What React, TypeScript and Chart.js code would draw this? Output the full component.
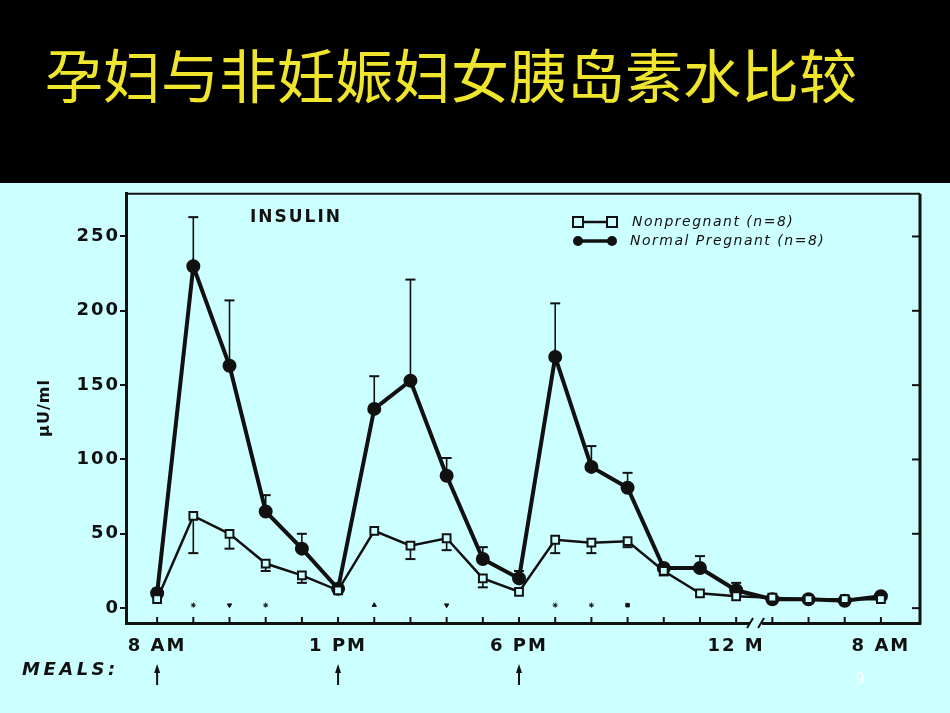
import React, { useEffect, useRef } from 'react';
import { Chart, registerables } from 'chart.js';

Chart.register(...registerables);

const TITLE = '孕妇与非妊娠妇女胰岛素水比较';
const BG = '#ccffff';
const INK = '#111111';

// sample positions (index along the time axis)
const timeIndex = [0, 1, 2, 3, 4, 5, 6, 7, 8, 9, 10, 11, 12, 13, 14, 15, 16, 17, 18, 19, 20];
const tickIndices = [0, 5, 10, 16, 20];
const tickLabels = ['8 AM', '1 PM', '6 PM', '12 M', '8 AM'];
const yTickValues = [0, 50, 100, 150, 200, 250];
const mealIndices = [0, 5, 10];

const nonpregnant = [6, 62, 50, 30, 22, 12, 52, 42, 47, 20, 11, 46, 44, 45, 25, 10, 8, 7, 6, 6, 6];
const pregnant = [10, 230, 163, 65, 40, 13, 134, 153, 89, 33, 20, 169, 95, 81, 27, 27, 12, 6, 6, 5, 8];
const pregnantUpper = [13, 263, 207, 76, 50, null, 156, 221, 101, 41, 25, 205, 109, 91, null, 35, 17, null, null, null, null];
const nonpregnantLower = [null, 37, 40, 25, 17, null, null, 33, 39, 14, null, 37, 37, 41, 22, null, null, null, null, null, null];

const sigIndices = [1, 2, 3, 6, 8, 11, 12, 13];
const sigStyles = ['star', 'triangle', 'star', 'triangle', 'triangle', 'star', 'star', 'rect'];
const sigRotation = [0, 180, 0, 0, 180, 0, 0, 0];
const sigLevel = 2;

const FONT = "'DejaVu Sans', 'Liberation Sans', sans-serif";

const decor = {
  id: 'decor',
  beforeDraw(chart: any) {
    chart.ctx.letterSpacing = '2px';
  },
  beforeDatasetsDraw(chart: any) {
    const ctx = chart.ctx as CanvasRenderingContext2D;
    const xs = chart.scales.x;
    const ys = chart.scales.y;
    ctx.save();
    ctx.strokeStyle = INK;
    const bar = (i: number, v: number, b: number) => {
      const x = xs.getPixelForValue(timeIndex[i]);
      const y0 = ys.getPixelForValue(v);
      const y1 = ys.getPixelForValue(b);
      ctx.lineWidth = 1.6;
      ctx.beginPath();
      ctx.moveTo(x, y0);
      ctx.lineTo(x, y1);
      ctx.stroke();
      ctx.lineWidth = 2;
      ctx.beginPath();
      ctx.moveTo(x - 5, y1);
      ctx.lineTo(x + 5, y1);
      ctx.stroke();
    };
    pregnantUpper.forEach((u, i) => { if (u != null) bar(i, pregnant[i], u); });
    nonpregnantLower.forEach((l, i) => { if (l != null) bar(i, nonpregnant[i], l); });
    ctx.restore();
  },
  afterDraw(chart: any) {
    const ctx = chart.ctx as CanvasRenderingContext2D;
    const a = chart.chartArea;
    const xs = chart.scales.x;
    const ys = chart.scales.y;
    const px = (v: number) => xs.getPixelForValue(v);
    const py = (v: number) => ys.getPixelForValue(v);
    ctx.save();
    ctx.strokeStyle = INK;
    ctx.fillStyle = INK;

    // top frame
    ctx.lineWidth = 2;
    ctx.beginPath();
    ctx.moveTo(a.left, a.top);
    ctx.lineTo(a.right, a.top);
    ctx.stroke();
    // right frame
    ctx.lineWidth = 3;
    ctx.beginPath();
    ctx.moveTo(a.right, a.top);
    ctx.lineTo(a.right, a.bottom + 1.5);
    ctx.stroke();
    ctx.lineWidth = 2;
    yTickValues.forEach((v) => {
      ctx.beginPath();
      ctx.moveTo(a.right, py(v));
      ctx.lineTo(a.right - 8, py(v));
      ctx.stroke();
    });
    // inner x ticks
    timeIndex.forEach((t) => {
      ctx.beginPath();
      ctx.moveTo(px(t), a.bottom);
      ctx.lineTo(px(t), a.bottom - 6);
      ctx.stroke();
    });
    // axis break
    const bx = px(16.55);
    ctx.fillStyle = BG;
    ctx.fillRect(bx - 6, a.bottom - 3, 12, 6);
    ctx.fillStyle = INK;
    ctx.lineWidth = 2;
    ctx.beginPath();
    ctx.moveTo(bx - 9, a.bottom + 5);
    ctx.lineTo(bx - 3, a.bottom - 5);
    ctx.moveTo(bx + 2, a.bottom + 5);
    ctx.lineTo(bx + 8, a.bottom - 5);
    ctx.stroke();

    // INSULIN label
    ctx.textBaseline = 'middle';
    ctx.textAlign = 'left';
    ctx.letterSpacing = '2px';
    ctx.font = `bold 17px ${FONT}`;
    ctx.fillText('INSULIN', 250, 35);

    // legend
    const l1 = 39, l2 = 58;
    ctx.lineWidth = 2.5;
    ctx.beginPath();
    ctx.moveTo(578, l1);
    ctx.lineTo(612, l1);
    ctx.stroke();
    [578, 612].forEach((x) => {
      ctx.fillStyle = BG;
      ctx.fillRect(x - 5, l1 - 5, 10, 10);
      ctx.lineWidth = 2;
      ctx.strokeRect(x - 5, l1 - 5, 10, 10);
    });
    ctx.fillStyle = INK;
    ctx.lineWidth = 3.5;
    ctx.beginPath();
    ctx.moveTo(578, l2);
    ctx.lineTo(612, l2);
    ctx.stroke();
    [578, 612].forEach((x) => {
      ctx.beginPath();
      ctx.arc(x, l2, 5, 0, Math.PI * 2);
      ctx.fill();
    });
    ctx.font = `italic 14px ${FONT}`;
    ctx.letterSpacing = '1.5px';
    ctx.fillText('Nonpregnant (n=8)', 632, l1);
    ctx.fillText('Normal Pregnant (n=8)', 630, l2);

    // y axis title
    ctx.save();
    ctx.translate(45, 225);
    ctx.rotate(-Math.PI / 2);
    ctx.textAlign = 'center';
    ctx.font = `bold 16px ${FONT}`;
    ctx.letterSpacing = '1px';
    ctx.fillText('μU/ml', 0, 0);
    ctx.restore();

    // meals row
    ctx.font = `italic bold 18px ${FONT}`;
    ctx.letterSpacing = '3.5px';
    ctx.textAlign = 'left';
    ctx.fillText('MEALS:', 22, 487);
    mealIndices.forEach((m) => {
      const x = px(m);
      ctx.lineWidth = 2;
      ctx.beginPath();
      ctx.moveTo(x, 486);
      ctx.lineTo(x, 502);
      ctx.stroke();
      ctx.beginPath();
      ctx.moveTo(x, 481);
      ctx.lineTo(x - 3, 490);
      ctx.lineTo(x + 3, 490);
      ctx.closePath();
      ctx.fill();
    });

    // page number
    ctx.fillStyle = '#ffffff';
    ctx.font = `15px ${FONT}`;
    ctx.letterSpacing = '0px';
    ctx.textAlign = 'center';
    ctx.fillText('9', 860, 497);

    ctx.restore();
    ctx.letterSpacing = '0px';
  },
};

export default function App() {
  const ref = useRef<HTMLCanvasElement>(null);

  useEffect(() => {
    if (!ref.current) return;
    const chart = new Chart(ref.current, {
      type: 'line',
      data: {
        datasets: [
          {
            label: 'Nonpregnant (n=8)',
            data: timeIndex.map((x, i) => ({ x, y: nonpregnant[i] })),
            borderColor: INK,
            borderWidth: 2.5,
            backgroundColor: BG,
            pointStyle: 'rect',
            pointRadius: 5.5,
            pointBorderWidth: 2,
            pointBackgroundColor: BG,
            pointBorderColor: INK,
            tension: 0,
          },
          {
            label: 'Normal Pregnant (n=8)',
            data: timeIndex.map((x, i) => ({ x, y: pregnant[i] })),
            borderColor: INK,
            borderWidth: 4,
            backgroundColor: INK,
            pointStyle: 'circle',
            pointRadius: 5,
            pointBackgroundColor: INK,
            pointBorderColor: INK,
            tension: 0,
          },
          {
            label: 'sig',
            data: sigIndices.map((x) => ({ x, y: sigLevel })),
            showLine: false,
            pointStyle: sigStyles as any,
            pointRotation: sigRotation,
            pointRadius: 2.5,
            pointBackgroundColor: INK,
            pointBorderColor: INK,
            pointBorderWidth: 1,
          },
        ],
      },
      options: {
        animation: false,
        responsive: false,
        events: [],
        layout: { padding: { top: 7, right: 30, left: 0, bottom: 0 } },
        plugins: {
          legend: { display: false },
          tooltip: { enabled: false },
          title: { display: false },
        },
        scales: {
          x: {
            type: 'linear',
            min: -0.86,
            max: 21.08,
            afterBuildTicks: (s: any) => {
              s.ticks = tickIndices.map((v) => ({ value: v }));
            },
            afterFit: (s: any) => {
              s.height = 90;
            },
            ticks: {
              autoSkip: false,
              maxRotation: 0,
              padding: 13,
              color: INK,
              font: { family: FONT, size: 18, weight: 'bold' },
              callback: (v: any) => {
                const k = tickIndices.indexOf(Number(v));
                return k >= 0 ? tickLabels[k] : '';
              },
            },
            grid: { display: true, drawOnChartArea: false, drawTicks: false, color: 'rgba(0,0,0,0)' },
            border: { display: true, color: INK, width: 3 },
          },
          y: {
            type: 'linear',
            min: -10,
            max: 278.7,
            afterBuildTicks: (s: any) => {
              s.ticks = yTickValues.map((v) => ({ value: v }));
            },
            afterFit: (s: any) => {
              s.width = 126;
            },
            ticks: {
              padding: 0,
              color: INK,
              font: { family: FONT, size: 18, weight: 'bold' },
              callback: (v: any) => String(v),
            },
            grid: { display: true, drawOnChartArea: false, drawTicks: true, tickLength: 6, color: INK, lineWidth: 2 },
            border: { display: true, color: INK, width: 3 },
          },
        },
      },
      plugins: [decor],
    } as any);
    return () => chart.destroy();
  }, []);

  return (
    <div
      style={{
        position: 'fixed',
        left: 0,
        top: 0,
        width: 950,
        height: 713,
        background: BG,
        overflow: 'hidden',
      }}
    >
      <div style={{ position: 'absolute', left: 0, top: 0, width: 950, height: 183, background: '#000' }}>
        <div
          style={{
            position: 'absolute',
            left: 45,
            top: 44,
            fontSize: 58,
            lineHeight: '58px',
            fontFamily: '"Noto Sans CJK SC", sans-serif',
            color: '#efe52d',
            whiteSpace: 'nowrap',
          }}
        >
          {TITLE}
        </div>
      </div>
      <canvas
        ref={ref}
        width={950}
        height={530}
        style={{ position: 'absolute', left: 0, top: 183, width: 950, height: 530 }}
      />
    </div>
  );
}
